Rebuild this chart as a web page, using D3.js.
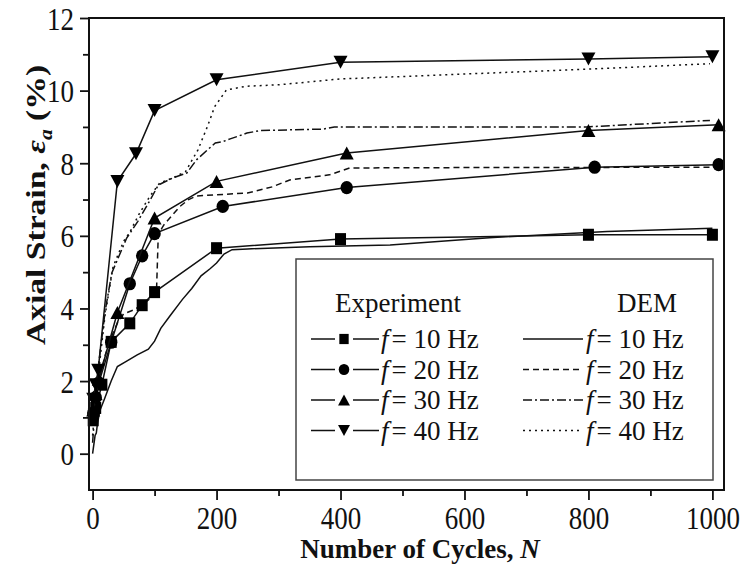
<!DOCTYPE html>
<html>
<head>
<meta charset="utf-8">
<script src="https://cdn.jsdelivr.net/npm/d3@7"></script>
<style>
  body { margin: 0; background: #fff; }
  svg text { font-family: "Liberation Serif", "Times New Roman", serif; fill: #111; }
</style>
</head>
<body>
<svg id="chart" width="740" height="568"></svg>
<script>
// experiment data (markers), [N, strain %]
var exp10 = [[1,0.92],[5,1.26],[15,1.9],[30,3.08],[60,3.59],[80,4.09],[100,4.45],[200,5.66],[400,5.91],[800,6.03],[1000,6.03]];
var exp20 = [[1,1.12],[5,1.55],[10,1.95],[30,3.07],[60,4.68],[80,5.45],[100,6.06],[210,6.81],[410,7.33],[810,7.89],[1010,7.96]];
var exp30 = [[1,1.2],[5,1.65],[10,2.05],[40,3.89],[100,6.49],[200,7.5],[410,8.28],[800,8.9],[1010,9.06]];
var exp40 = [[1,1.5],[5,1.9],[9,2.3],[40,7.5],[70,8.26],[100,9.45],[200,10.3],[400,10.78],[800,10.87],[1000,10.93]];

// DEM simulation curves
var dem10 = [[0,0],[4,0.5],[6,0.57],[8,0.85],[12,1.2],[19,1.5],[30,2.0],[40,2.4],[55,2.55],[72,2.72],[90,2.88],[100,3.1],[110,3.45],[125,3.8],[145,4.25],[160,4.55],[175,4.9],[190,5.1],[200,5.25],[212,5.5],[225,5.62],[250,5.64],[350,5.7],[480,5.75],[640,5.95],[830,6.12],[1000,6.21]];
var dem20 = [[0,0.8],[5,1.5],[10,2.0],[20,2.7],[30,3.2],[40,3.6],[50,3.85],[65,3.95],[80,4.1],[95,4.3],[103,4.42],[106,6.05],[115,6.3],[130,6.6],[141,6.81],[155,7.0],[168,7.1],[250,7.18],[290,7.35],[318,7.54],[382,7.68],[415,7.87],[600,7.88],[1006,7.89]];
var dem30 = [[0,0.3],[5,1.5],[10,2.5],[20,3.9],[31,4.98],[55,5.94],[73,6.4],[93,6.99],[106,7.4],[130,7.6],[152,7.73],[168,8.1],[198,8.56],[211,8.6],[222,8.67],[249,8.83],[270,8.9],[372,8.94],[390,9.0],[797,9.0],[996,9.18]];
var dem40 = [[0,0.5],[5,1.5],[10,2.3],[20,3.8],[33,5.15],[50,5.85],[60,6.1],[75,6.6],[92,7.08],[108,7.45],[130,7.6],[150,7.77],[170,8.37],[185,9.0],[197,9.56],[216,10.02],[248,10.12],[300,10.16],[399,10.32],[797,10.59],[996,10.74]];

var legendLabels = ["10", "20", "30", "40"];
var xTicks = [0, 200, 400, 600, 800, 1000];
var yTicks = [0, 2, 4, 6, 8, 10, 12];

var svg = d3.select("#chart");
var pLeft = 89, pRight = 724, pTop = 18, pBottom = 490;
var stretch = 1.2; // the source figure's type is drawn a bit tall

var x = d3.scaleLinear().domain([-5.8, 1018.7]).range([pLeft, pRight]);
var y = d3.scaleLinear().domain([-1, 12]).range([pBottom, pTop]);

var line = d3.line().x(d => x(d[0])).y(d => y(d[1]));

// axes
var xAxis = d3.axisBottom(x).tickValues(xTicks).tickSize(10).tickSizeOuter(0).tickFormat(d3.format("d"));
var xMinor = d3.axisBottom(x).tickValues(d3.range(100, 1000, 200)).tickSize(6).tickSizeOuter(0).tickFormat("");
var yAxis = d3.axisLeft(y).tickValues(yTicks).tickSize(9).tickSizeOuter(0);
var yMinor = d3.axisLeft(y).tickValues(d3.range(1, 12, 2)).tickSize(6).tickSizeOuter(0).tickFormat("");

function styleAxis(g) {
	g.select(".domain").remove();
	g.selectAll("line").attr("stroke", "#111").attr("stroke-width", 1.8);
	g.selectAll("text").style("font-size", "27px").attr("fill", "#111");
}

svg.append("g").attr("transform", `translate(0,${pBottom})`).call(xAxis).call(styleAxis)
   .selectAll("text")
   .attr("x", 0).attr("y", 0).attr("dy", null)
   .attr("transform", `translate(0,39) scale(1,${stretch})`);
svg.append("g").attr("transform", `translate(0,${pBottom})`).call(xMinor).call(styleAxis);
svg.append("g").attr("transform", `translate(${pLeft},0)`).call(yAxis).call(styleAxis)
   .selectAll("text")
   .attr("x", 0).attr("y", 0).attr("dy", null)
   .attr("transform", `translate(-15,11) scale(1,${stretch})`);
svg.append("g").attr("transform", `translate(${pLeft},0)`).call(yMinor).call(styleAxis);

// DEM curves
var dems = [
	{d: dem10, dash: null},
	{d: dem20, dash: "6,4"},
	{d: dem30, dash: "9,3,2,3"},
	{d: dem40, dash: "2,4"}
];
svg.append("g").selectAll("path")
   .data(dems)
   .enter()
   .append("path")
   .attr("d", s => line(s.d))
   .attr("fill", "none")
   .attr("stroke", "#111")
   .attr("stroke-width", 1.5)
   .attr("stroke-dasharray", s => s.dash);

// experiment curves + markers
var markers = [
	{d: exp10, shape: "square"},
	{d: exp20, shape: "circle"},
	{d: exp30, shape: "up"},
	{d: exp40, shape: "down"}
];

function drawMarker(g, shape, cx, cy, s) {
	if (shape == "square") {
		g.append("rect").attr("x", cx - 5.5 * s).attr("y", cy - 6 * s)
		 .attr("width", 11 * s).attr("height", 12 * s).attr("fill", "#000");
	} else if (shape == "circle") {
		g.append("ellipse").attr("cx", cx).attr("cy", cy).attr("rx", 6.2 * s).attr("ry", 6.6 * s).attr("fill", "#000");
	} else {
		var h = 13 * s, w = 14 * s;
		var pts = shape == "up"
			? [[cx - w / 2, cy + h / 2], [cx + w / 2, cy + h / 2], [cx, cy - h / 2]]
			: [[cx - w / 2, cy - h / 2], [cx + w / 2, cy - h / 2], [cx, cy + h / 2]];
		g.append("path").attr("d", "M" + pts.join("L") + "Z").attr("fill", "#000");
	}
}

var expG = svg.append("g");
markers.forEach(m => {
	expG.append("path")
	    .attr("d", line(m.d))
	    .attr("fill", "none")
	    .attr("stroke", "#111")
	    .attr("stroke-width", 1.5);
	m.d.forEach(p => drawMarker(expG, m.shape, x(p[0]), y(p[1]), 1));
});

// frame
svg.append("rect")
   .attr("x", pLeft).attr("y", pTop)
   .attr("width", pRight - pLeft).attr("height", pBottom - pTop)
   .attr("fill", "none").attr("stroke", "#111").attr("stroke-width", 2);

// legend
var lg = svg.append("g");
lg.append("rect")
  .attr("x", 296).attr("y", 259).attr("width", 417).attr("height", 221)
  .attr("fill", "#fff").attr("stroke", "#444").attr("stroke-width", 1.5);
lg.append("text").attr("x", 335).attr("y", 312).style("font-size", "27px").text("Experiment");
lg.append("text").attr("x", 677).attr("y", 312).attr("text-anchor", "end").style("font-size", "27px").text("DEM");

legendLabels.forEach((lab, i) => {
	var cy = 339 + i * 30.5;
	lg.append("line").attr("x1", 311).attr("x2", 379).attr("y1", cy).attr("y2", cy)
	  .attr("stroke", "#111").attr("stroke-width", 1.5);
	lg.append("rect").attr("x", 335).attr("y", cy - 7).attr("width", 18).attr("height", 14).attr("fill", "#fff");
	drawMarker(lg, markers[i].shape, 344, cy, 0.85);
	lg.append("line").attr("x1", 523).attr("x2", 583).attr("y1", cy).attr("y2", cy)
	  .attr("stroke", "#111").attr("stroke-width", 1.3).attr("stroke-dasharray", dems[i].dash);
	[381, 586].forEach(tx => {
		var t = lg.append("text").attr("x", tx).attr("y", cy + 9).style("font-size", "27px");
		t.append("tspan").style("font-style", "italic").text("f");
		t.append("tspan").attr("dx", 3).text("= " + lab + " Hz");
	});
});

// axis titles
svg.append("text")
   .attr("transform", "translate(420,558) scale(1,1.05)")
   .attr("text-anchor", "middle")
   .style("font-size", "27px").style("font-weight", "bold")
   .call(t => {
   	t.append("tspan").text("Number of Cycles, ");
   	t.append("tspan").style("font-style", "italic").text("N");
   });

svg.append("text")
   .attr("transform", `translate(45,205) rotate(-90) scale(${stretch},1)`)
   .attr("text-anchor", "middle")
   .style("font-size", "28px").style("font-weight", "bold")
   .call(t => {
   	t.append("tspan").text("Axial Strain, ");
   	t.append("tspan").style("font-style", "italic").text("ε");
   	t.append("tspan").style("font-style", "italic").style("font-size", "18px").attr("dy", 7).text("a");
   	t.append("tspan").attr("dy", -7).text(" (%)");
   });
</script>
</body>
</html>
